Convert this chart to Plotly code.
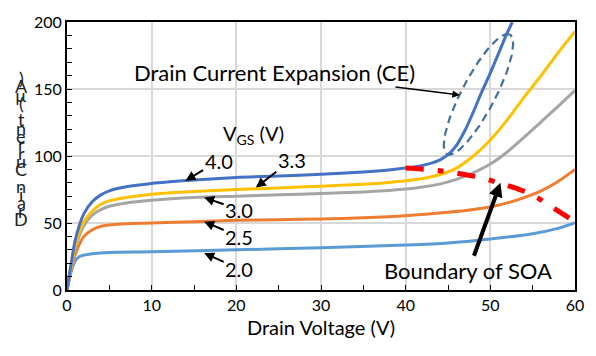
import numpy as np
import plotly.graph_objects as go

# ---- data ----
v40 = [0, 0.5, 1, 2, 3, 4, 5, 7, 10, 15, 20, 25, 30, 35, 38, 40, 42, 44, 45, 46, 47, 48, 49, 50, 51, 52, 52.6]
i40 = [0, 20, 38, 57, 66, 71, 74, 77, 79.5, 82, 84, 85, 86.3, 88, 89.5, 91, 93, 97, 101, 108, 119, 133, 148, 162, 177, 192, 200]

v33 = [0, 0.5, 1, 2, 3, 4, 5, 7, 10, 15, 20, 25, 30, 35, 38, 40, 42, 44, 46, 48, 50, 52, 54, 56, 58, 60]
i33 = [0, 18, 34, 51, 59, 64, 66.5, 69, 71.5, 73.5, 75, 76.2, 77.5, 79, 80.3, 81.5, 83.2, 86, 91, 100, 112, 127, 144, 160, 177, 193]

v30 = [0, 0.5, 1, 2, 3, 4, 5, 7, 10, 15, 20, 25, 30, 35, 38, 40, 42, 44, 46, 48, 50, 52, 54, 56, 58, 60]
i30 = [0, 17, 32, 48, 56, 60, 62.5, 65, 67, 69, 70, 71, 72, 73.2, 74.3, 75.3, 76.9, 79, 82.5, 87.5, 94, 103, 114, 125.5, 137, 149]

v25 = [0, 0.5, 1, 2, 3, 4, 5, 7, 10, 15, 20, 25, 30, 35, 40, 45, 50, 52, 54, 56, 58, 60]
i25 = [0, 15, 27, 40, 45, 47.5, 48.5, 49.5, 50, 51, 52, 52.5, 53, 54, 55.5, 58, 62, 65, 69, 74, 81, 90]

v20 = [0, 0.5, 1, 1.5, 2, 3, 5, 10, 20, 30, 40, 45, 50, 55, 58, 60]
i20 = [0, 14, 22, 25, 26, 27, 28, 28.5, 30, 31.5, 33.5, 35, 38, 42, 46, 50]

soa_v = [40, 44, 48, 51, 53, 55, 57, 60]
soa_i = [91, 89, 85, 80, 76, 71, 63, 51]

vgs_labels = ["4.0", "3.3", "3.0", "2.5", "2.0"]
label_head_v = [14, 22.3, 16.2, 16.2, 16.2]
label_head_i = [81.5, 76.4, 69, 51, 27.6]

# CE ellipse (data units): center, semi-axes in px, angle
ce_center = (48.6, 146)
ce_axes_px = (69, 17)
ce_angle_deg = 62.9

W, H = 596, 356
ml, mr, mt, mb = 67, 18, 15, 66
pw, ph = W - ml - mr, H - mt - mb
px_per_v = pw / 60.0
px_per_i = ph / 200.0

FONT = "Lato"

fig = go.Figure()
series = [
    (v20, i20, "#5B9BD5"),
    (v25, i25, "#ED7D31"),
    (v30, i30, "#A5A5A5"),
    (v33, i33, "#FFC000"),
    (v40, i40, "#4472C4"),
]
for xs, ys, col in series:
    fig.add_trace(go.Scatter(x=xs, y=ys, mode="lines", line=dict(color=col, width=3, shape="spline", smoothing=0.8),
                             showlegend=False, hoverinfo="skip"))

fig.add_trace(go.Scatter(x=soa_v, y=soa_i, mode="lines",
                         line=dict(color="#FF0000", width=5, dash="18px,14px,6px,14px", shape="spline"),
                         showlegend=False, hoverinfo="skip"))

# ellipse
t = np.linspace(0, 2 * np.pi, 200)
a, b = ce_axes_px
th = np.radians(ce_angle_deg)
dxp = a * np.cos(t) * np.cos(th) - b * np.sin(t) * np.sin(th)
dyp = a * np.cos(t) * np.sin(th) + b * np.sin(t) * np.cos(th)
fig.add_trace(go.Scatter(x=ce_center[0] + dxp / px_per_v, y=ce_center[1] + dyp / px_per_i, mode="lines",
                         line=dict(color="#41719C", width=2.2, dash="8px,5px"),
                         showlegend=False, hoverinfo="skip"))

ann = []
offsets = [(33, -20), (36, -28), (35, 12), (35, 15), (35, 16)]
for lab, hv, hi, (ax, ay) in zip(vgs_labels, label_head_v, label_head_i, offsets):
    ann.append(dict(x=hv, y=hi, ax=ax, ay=ay, text=lab, showarrow=True, arrowhead=2, arrowsize=1,
                    arrowwidth=2, arrowcolor="black", font=dict(size=20, color="black", family=FONT)))

ann.append(dict(x=(255 - ml) / px_per_v, y=(mt + ph - 130) / px_per_i, text="V<sub>GS</sub> (V)",
                showarrow=False, font=dict(size=20, color="black", family=FONT)))
ann.append(dict(x=46.4, y=145.5, ax=-185, ay=-23, text="Drain Current Expansion (CE)", showarrow=True,
                arrowhead=2, arrowsize=1, arrowwidth=1.5, arrowcolor="black",
                font=dict(size=22, color="black", family=FONT)))
ann.append(dict(x=51.2, y=80, ax=-32, ay=88, text="Boundary of SOA", showarrow=True,
                arrowhead=2, arrowsize=0.7, arrowwidth=4, arrowcolor="black",
                font=dict(size=22, color="black", family=FONT)))

# stacked y-axis title
ytitle = "Drain Current (µA)"
for k, ch in enumerate(ytitle):
    ypix = 217 - k * 8.5
    ann.append(dict(xref="paper", yref="paper", x=(21 - ml) / pw, y=(mt + ph - ypix) / ph, text=ch,
                    showarrow=False, xanchor="center", yanchor="middle",
                    font=dict(size=18, color="#222", family=FONT)))

fig.update_layout(
    width=W, height=H, margin=dict(l=ml, r=mr, t=mt, b=mb),
    plot_bgcolor="white", paper_bgcolor="white",
    annotations=ann,
    xaxis=dict(range=[0, 60], dtick=10, tick0=0, showgrid=True, gridcolor="#D9D9D9", gridwidth=2,
               showline=True, linecolor="black", linewidth=2, mirror=True, ticks="inside", ticklen=5,
               tickcolor="black", minor=dict(dtick=5, ticks="inside", ticklen=5, tickcolor="black", showgrid=False),
               zeroline=False, tickfont=dict(size=16, family=FONT, color="black"),
               title=dict(text="Drain Voltage (V)", font=dict(size=20, family=FONT, color="black"), standoff=8)),
    yaxis=dict(range=[0, 200], dtick=50, tick0=0, showgrid=True, gridcolor="#D9D9D9", gridwidth=2,
               showline=True, linecolor="black", linewidth=2, mirror=True, ticks="inside", ticklen=5,
               tickcolor="black", minor=dict(dtick=10, ticks="inside", ticklen=5, tickcolor="black", showgrid=False),
               zeroline=False, tickfont=dict(size=16, family=FONT, color="black")),
)

fig.write_html("out.html", config={"displayModeBar": False},
               post_script="document.body.style.margin='0px';")
